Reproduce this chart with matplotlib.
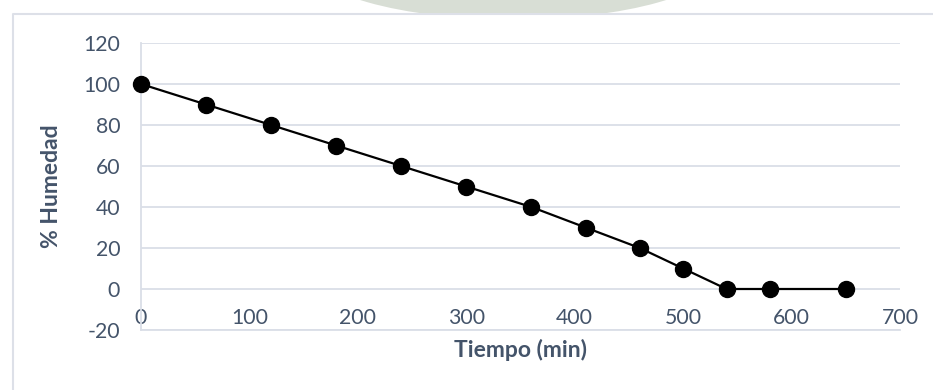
import matplotlib.pyplot as plt
from matplotlib.patches import Ellipse
from matplotlib.lines import Line2D

# datos de secado
tiempo = [0, 60, 120, 180, 240, 300, 360, 410, 460, 500, 540, 580, 650]
humedad = [100, 90, 80, 70, 60, 50, 40, 30, 20, 10, 0, 0, 0]

x_ticks = [0, 100, 200, 300, 400, 500, 600, 700]
y_ticks = [-20, 0, 20, 40, 60, 80, 100, 120]

texto = '#44546a'
grilla = '#dadee7'

plt.rcParams['font.family'] = ['Lato', 'DejaVu Sans']
plt.rcParams['axes.unicode_minus'] = False

fig = plt.figure(figsize=(9.33, 3.90), dpi=100)

# marca de agua tenue arriba (cortada por el borde del grafico)
fig.patches.append(Ellipse((0.55, 1.10), 0.44, 0.30, transform=fig.transFigure,
                           facecolor='#d8ded5', edgecolor='none', zorder=-2))
fig.patches.append(plt.Rectangle((0, 0), 1, 1 - 14 / 390, transform=fig.transFigure,
                                 facecolor='white', edgecolor='none', zorder=-1))

# borde del area del grafico
fig.lines.append(Line2D([13 / 933, 13 / 933, 1], [0, 1 - 14 / 390, 1 - 14 / 390],
                        transform=fig.transFigure, color='#dde0e8', lw=1.5, zorder=-0.5))

ax = fig.add_axes([141 / 933, 1 - 330 / 390, 759 / 933, 287 / 390])
ax.set_facecolor('none')

ax.plot(tiempo, humedad, color='black', lw=1.6, marker='o', markersize=11.5,
        zorder=3, clip_on=False)

ax.set_xlim(0, 700)
ax.set_ylim(-20, 120)
ax.set_xticks(x_ticks)
ax.set_yticks(y_ticks)
ax.grid(axis='y', color=grilla, lw=1.3)
ax.set_axisbelow(True)

for s in ['top', 'right']:
    ax.spines[s].set_visible(False)
ax.spines['left'].set_color(grilla)
ax.spines['left'].set_linewidth(1.3)
ax.spines['bottom'].set_color(grilla)
ax.spines['bottom'].set_linewidth(1.3)

ax.tick_params(axis='y', length=0, pad=15, labelsize=15.3, labelcolor=texto)
ax.tick_params(axis='x', length=0, pad=-16, labelsize=15.3, labelcolor=texto)

ax.set_xlabel('Tiempo (min)', fontsize=16.5, fontweight='bold', color=texto)
ax.set_ylabel('% Humedad', fontsize=16.5, fontweight='bold', color=texto)
ax.xaxis.set_label_coords(0.5, -0.03)
ax.yaxis.set_label_coords(-0.104, 0.5)

fig.savefig('out.png', dpi=100)
